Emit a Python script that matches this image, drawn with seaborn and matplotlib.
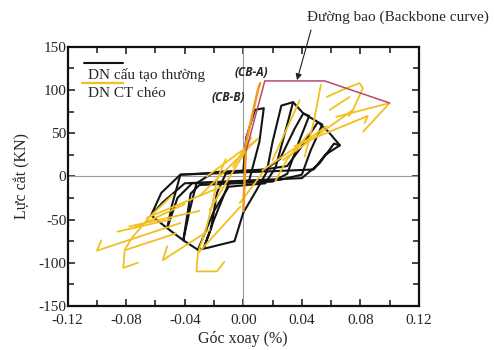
import matplotlib
matplotlib.use("Agg")
import matplotlib.pyplot as plt
import seaborn as sns
import pandas as pd
from matplotlib.ticker import MultipleLocator

# ---------------- data (rotation %, shear force kN) ----------------
# DN cấu tạo thường (black loops)
blk_a_x = [-0.031, -0.025, -0.006, 0.000, 0.009, 0.016, 0.020, 0.026, 0.034, 0.030, 0.022, 0.015, -0.010, -0.020, -0.031]
blk_a_y = [-85, -83, -75, -42, -16, 5, 40, 82, 86, 60, 10, -8, -12, -40, -85]
blk_b_x = [-0.027, -0.022, -0.018, -0.012, 0.000, 0.002, 0.008, 0.014, 0.011, 0.004, -0.010, -0.020, -0.027]
blk_b_y = [-83, -60, -19, 3, 6, 45, 77, 79, 40, -5, -8, -50, -83]
blk_c_x = [-0.041, -0.037, -0.032, -0.020, 0.015, 0.025, 0.035, 0.041, 0.045, 0.038, 0.030, 0.020, -0.030, -0.036, -0.041]
blk_c_y = [-74, -42, -8, 5, 8, 20, 55, 73, 70, 40, 3, -6, -10, -20, -74]
blk_d_x = [-0.052, -0.049, -0.043, 0.010, 0.030, 0.040, 0.051, 0.054, 0.046, 0.040, 0.025, -0.035, -0.045, -0.052]
blk_d_y = [-60, -35, 2, 7, 12, 35, 63, 60, 30, 2, -4, -8, -25, -60]
blk_e_x = [-0.063, -0.056, -0.043, 0.020, 0.048, 0.056, 0.066, 0.062, 0.052, 0.040, -0.040, -0.055, -0.063]
blk_e_y = [-45, -19, 2, 6, 8, 25, 36, 38, 15, -2, -8, -30, -45]
blk_env_x = [0.034, 0.041, 0.051, 0.058, 0.066]
blk_env_y = [86, 73, 63, 52, 36]
blk_low_x = [-0.063, -0.052, -0.041, -0.031]
blk_low_y = [-45, -60, -74, -85]

# DN CT chéo (yellow strokes)
yel_1_x = [-0.097, -0.100, -0.043];  yel_1_y = [-74, -86, -54]
yel_2_x = [-0.086, -0.050];          yel_2_y = [-64, -50]
yel_3_x = [-0.072, -0.082, -0.081, -0.076, -0.063, -0.048]
yel_3_y = [-100, -106, -85, -71, -45, -21]
yel_4_x = [-0.080, -0.046];          yel_4_y = [-85, -66]
yel_5_x = [-0.075, -0.040];          yel_5_y = [-60, -32]
yel_6_x = [-0.052, -0.055, -0.023];  yel_6_y = [-81, -97, -62]
yel_7_x = [-0.013, -0.018, -0.032, -0.031, -0.025, -0.021, -0.018, -0.012]
yel_7_y = [-99, -110, -110, -89, -58, -31, -4, 20]
yel_8_x = [-0.031, -0.002];          yel_8_y = [-89, -35]
yel_9_x = [-0.030, 0.010];           yel_9_y = [-23, 44]
yel_10_x = [-0.023, 0.002];          yel_10_y = [-39, 31]
yel_11_x = [-0.078, -0.030];         yel_11_y = [-58, -40]
yel_12_x = [-0.066, -0.015];         yel_12_y = [-48, -12]
yel_13_x = [-0.007, 0.0056];         yel_13_y = [11, 45]
yel_14_x = [0.013, 0.057];           yel_14_y = [7, 58]
yel_15_x = [0.027, 0.075, 0.072];    yel_15_y = [19, 77, 70]
yel_16_x = [0.053, 0.048, 0.042];    yel_16_y = [106, 62, 23]
yel_17_x = [0.057, 0.070, 0.0795, 0.0817, 0.075]
yel_17_y = [92, 102, 108, 102, 77]
yel_18_x = [0.059, 0.0726];          yel_18_y = [77, 92]
yel_19_x = [0.0635, 0.100, 0.082];   yel_19_y = [69, 85, 52]
yel_20_x = [0.035, 0.085, 0.083];    yel_20_y = [35, 70, 62]
yel_21_x = [0.022, 0.030, 0.045];    yel_21_y = [-5, 20, 50]
yel_22_x = [0.0135, -0.0024];        yel_22_y = [5, -31]
yel_23_x = [-0.025, 0.009];          yel_23_y = [0, 42]
yel_24_x = [0.020, 0.0385];          yel_24_y = [19, 88]

# CB-B initial branch (orange) and backbone curve
cbb_x = [0.000, 0.001, 0.002, 0.006, 0.010, 0.0115]
cbb_y = [-40, 0, 40, 70, 100, 108]
backbone_x = [0.002, 0.0147, 0.0556, 0.100]
backbone_y = [30, 110.6, 110.6, 85]

xticks = [-0.12, -0.08, -0.04, 0.00, 0.04, 0.08, 0.12]
yticks = [-150, -100, -50, 0, 50, 100, 150]

# ---------------- build tables ----------------
def table(pairs):
    rows = []
    for uid, (xs, ys) in enumerate(pairs):
        for i, (a, b) in enumerate(zip(xs, ys)):
            rows.append({"x": a, "y": b, "unit": uid, "order": i})
    return pd.DataFrame(rows)

df_black = table([(blk_a_x, blk_a_y), (blk_b_x, blk_b_y), (blk_c_x, blk_c_y),
                  (blk_d_x, blk_d_y), (blk_e_x, blk_e_y), (blk_env_x, blk_env_y),
                  (blk_low_x, blk_low_y)])
yel = [(yel_1_x, yel_1_y), (yel_2_x, yel_2_y), (yel_3_x, yel_3_y), (yel_4_x, yel_4_y),
       (yel_5_x, yel_5_y), (yel_6_x, yel_6_y), (yel_7_x, yel_7_y), (yel_8_x, yel_8_y),
       (yel_9_x, yel_9_y), (yel_10_x, yel_10_y), (yel_11_x, yel_11_y), (yel_12_x, yel_12_y),
       (yel_13_x, yel_13_y), (yel_14_x, yel_14_y), (yel_15_x, yel_15_y), (yel_16_x, yel_16_y),
       (yel_17_x, yel_17_y), (yel_18_x, yel_18_y), (yel_19_x, yel_19_y), (yel_20_x, yel_20_y),
       (yel_21_x, yel_21_y), (yel_22_x, yel_22_y), (yel_23_x, yel_23_y), (yel_24_x, yel_24_y)]
df_yel = table(yel)
df_cbb = table([(cbb_x, cbb_y)])
df_bb = table([(backbone_x, backbone_y)])

# ---------------- plot ----------------
sns.set_style("ticks")
plt.rcParams["font.family"] = ["Liberation Serif", "DejaVu Serif"]
plt.rcParams["axes.unicode_minus"] = False

fig = plt.figure(figsize=(4.94, 3.5), dpi=100)
ax = fig.add_axes([0.137, 0.126, 0.711, 0.740])

ax.axhline(0, color="#9a9a9a", lw=0.8, zorder=1)
ax.axvline(0, color="#9a9a9a", lw=0.8, zorder=1)

common = dict(x="x", y="y", units="unit", estimator=None, sort=False, ax=ax, legend=False)
sns.lineplot(data=df_black, color="#141414", lw=1.5, zorder=3, **common)
sns.lineplot(data=df_yel, color="#F2C01E", lw=1.3, zorder=4, **common)
sns.lineplot(data=df_cbb, color="#F39A1E", lw=1.8, zorder=5, **common)
sns.lineplot(data=df_bb, color="#B8486A", lw=1.1, zorder=5, **common)

ax.set_xlim(-0.12, 0.12)
ax.set_ylim(-150, 150)
ax.set_xticks(xticks)
ax.set_xticklabels([f"{v:.2f}" for v in xticks])
ax.set_yticks(yticks)
ax.set_yticklabels([f"{v}" for v in yticks])
ax.xaxis.set_minor_locator(MultipleLocator(0.02))
ax.yaxis.set_minor_locator(MultipleLocator(25))
ax.tick_params(which="both", direction="in", top=True, right=True, width=1.2,
               labelsize=11)
ax.tick_params(axis="x", which="both", pad=6)
ax.tick_params(axis="y", which="both", pad=1)
ax.tick_params(which="major", length=5)
ax.tick_params(which="minor", length=4)
for s in ax.spines.values():
    s.set_linewidth(1.6)
    s.set_color("#111111")

ax.set_xlabel("Góc xoay (%)", fontsize=11.5, labelpad=3)
ax.set_ylabel("Lực cắt (KN)", fontsize=11.5, labelpad=6)

# legend (line drawn above each label)
ax.plot([0.046, 0.158], [0.937, 0.937], transform=ax.transAxes, color="#141414", lw=1.5)
ax.text(0.058, 0.892, "DN cấu tạo thường", transform=ax.transAxes, fontsize=11,
        va="center", ha="left")
ax.plot([0.040, 0.158], [0.860, 0.860], transform=ax.transAxes, color="#F2C01E", lw=1.6)
ax.text(0.058, 0.819, "DN CT chéo", transform=ax.transAxes, fontsize=11,
        va="center", ha="left")

ax.text(0.0055, 120.5, "(CB-A)", fontsize=8.5, fontweight="bold", fontstyle="italic",
        family=["Open Sans", "DejaVu Sans"], ha="center", va="center")
ax.text(-0.0102, 91.5, "(CB-B)", fontsize=8.5, fontweight="bold", fontstyle="italic",
        family=["Open Sans", "DejaVu Sans"], ha="center", va="center")

fig.text(398 / 494, 1 - 17 / 350, "Đường bao (Backbone curve)", fontsize=11,
         ha="center", va="center")
ax.annotate("", xy=(0.0367, 111.5), xytext=(311, 350 - 30), textcoords="figure pixels",
            arrowprops=dict(arrowstyle="-|>", color="#222222", lw=0.8,
                            mutation_scale=9, shrinkA=0, shrinkB=0))

fig.savefig("out.png", dpi=100)
